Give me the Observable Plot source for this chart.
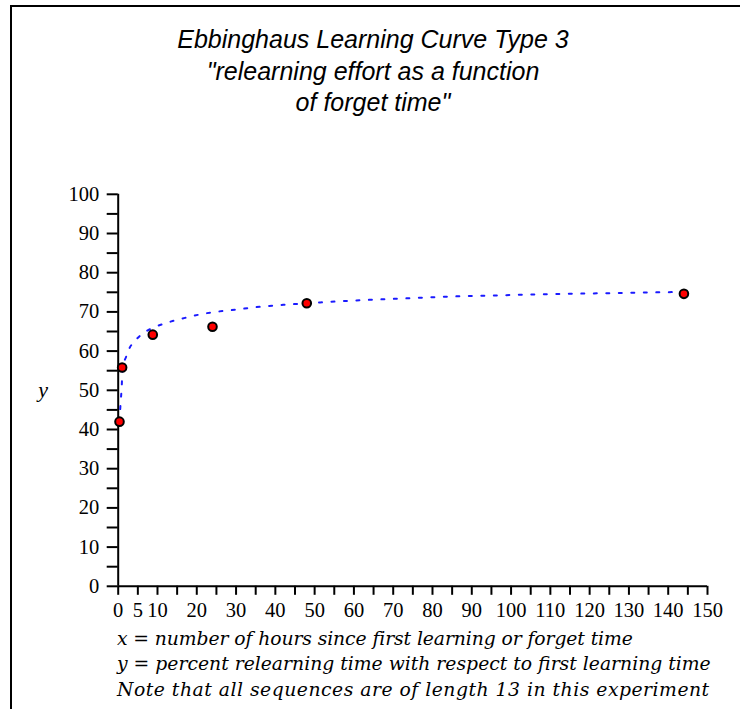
<!DOCTYPE html>
<html>
<head>
<meta charset="utf-8">
<script src="https://cdn.jsdelivr.net/npm/d3@7"></script>
<script src="https://cdn.jsdelivr.net/npm/@observablehq/plot@0.6"></script>
<style>
  html, body { margin: 0; padding: 0; background: #fff; }
  #root { position: relative; width: 740px; height: 709px; overflow: hidden; background: #fff; }
  #frame { position: absolute; left: 10px; top: 5px; width: 740px; height: 720px;
           border-left: 2px solid #000; border-top: 2px solid #000; box-sizing: border-box; }
  #title { position: absolute; left: 0; width: 746px; top: 24px; text-align: center;
           font-family: "Liberation Sans", Arial, sans-serif; font-style: italic;
           font-size: 25px; line-height: 31.5px; color: #000; }
  #chart { position: absolute; left: 0; top: 0; }
  .cap { position: absolute; left: 117px; font-family: "DejaVu Serif", serif; font-style: italic;
         font-size: 18.8px; line-height: 20px; color: #000; white-space: nowrap; }
</style>
</head>
<body>
<div id="root">
  <div id="frame"></div>
  <div id="title"></div>
  <div id="chart"></div>
  <div id="caps"></div>
</div>
<script>
// ---- data ----
const titleLines = ["Ebbinghaus Learning Curve Type 3", "\"relearning effort as a function", "of forget time\""];
const captionLines = [
  "x = number of hours since first learning or forget time",
  "y = percent relearning time with respect to first learning time",
  "Note that all sequences are of length 13 in this experiment"
];
const yAxisLabel = "y";
const yAxisLabelAt = 50;

// measured points (hours, percent relearning)
const pointX = [0.33, 1, 8.8, 24, 48, 144];
const pointY = [42, 55.8, 64.2, 66.2, 72.2, 74.6];

// fitted curve
const curveX = [0.33, 0.5, 0.7, 0.9, 1, 1.2, 2, 3, 4, 6, 9, 12, 15, 18, 21, 24, 30, 36, 42, 48, 60, 72, 84, 96, 108, 120, 132, 144];
const curveY = [42, 45, 48, 51, 53.5, 56, 58.5, 61, 62.3, 64.3, 66, 67.1, 68, 68.7, 69.4, 69.9, 70.6, 71.3, 71.8, 72.2, 72.9, 73.4, 73.9, 74.2, 74.5, 74.7, 74.9, 75.1];

// ticks
const xTicks = [0,5,10,15,20,25,30,35,40,45,50,55,60,65,70,75,80,85,90,95,100,105,110,115,120,125,130,135,140,145,150];
const xTickLabels = [0,5,10,20,30,40,50,60,70,80,90,100,110,120,130,140,150];
const yTicks = [0,5,10,15,20,25,30,35,40,45,50,55,60,65,70,75,80,85,90,95,100];
const yTickLabels = [0,10,20,30,40,50,60,70,80,90,100];

// ---- build ----
const points = pointX.map((x, i) => ({x, y: pointY[i]}));
const curve = curveX.map((x, i) => ({x, y: curveY[i]}));

document.getElementById("title").innerHTML = titleLines.map(t => `<div>${t.replace(/"/g, "&quot;")}</div>`).join("");

const capTops = [629, 654, 680];
const capSpacing = [-0.1, 0, 0.5];
document.getElementById("caps").innerHTML = captionLines.map((t, i) =>
  `<div class="cap" style="top:${capTops[i]}px;letter-spacing:${capSpacing[i]}px">${t}</div>`).join("");

const chart = Plot.plot({
  width: 740,
  height: 640,
  marginLeft: 117.7,
  marginRight: 33,
  marginTop: 193.8,
  marginBottom: 54.2,
  x: {domain: [0, 150]},
  y: {domain: [0, 100]},
  style: {fontFamily: "Liberation Serif, serif", fontSize: "20px", color: "#000", background: "transparent", overflow: "visible"},
  marks: [
    Plot.axisX(xTicks, {tickSize: 9, tickPadding: 7, strokeWidth: 2, stroke: "#000",
      tickFormat: d => xTickLabels.includes(d) ? String(d) : "", label: null, fontSize: 20.5}),
    Plot.axisY(yTicks, {tickSize: 11, tickPadding: 8, strokeWidth: 2, stroke: "#000",
      tickFormat: d => yTickLabels.includes(d) ? String(d) : "", label: null, fontSize: 20.5}),
    Plot.ruleX([0], {y1: 0, y2: 100, stroke: "#000", strokeWidth: 2}),
    Plot.ruleY([0], {x1: 0, x2: 150, stroke: "#000", strokeWidth: 2}),
    Plot.text([{label: yAxisLabel, at: yAxisLabelAt}], {text: "label", y: "at", frameAnchor: "left", dx: -80,
      fontStyle: "italic", fontSize: 22, fontFamily: "Liberation Serif, serif"}),
    Plot.line(curve, {x: "x", y: "y", stroke: "#1a1aff", strokeWidth: 2, strokeDasharray: "3,9.5", curve: "monotone-x"}),
    Plot.dot(points, {x: "x", y: "y", r: 4.3, fill: "#ff0000", stroke: "#000", strokeWidth: 2})
  ]
});
document.getElementById("chart").appendChild(chart);
</script>
</body>
</html>
